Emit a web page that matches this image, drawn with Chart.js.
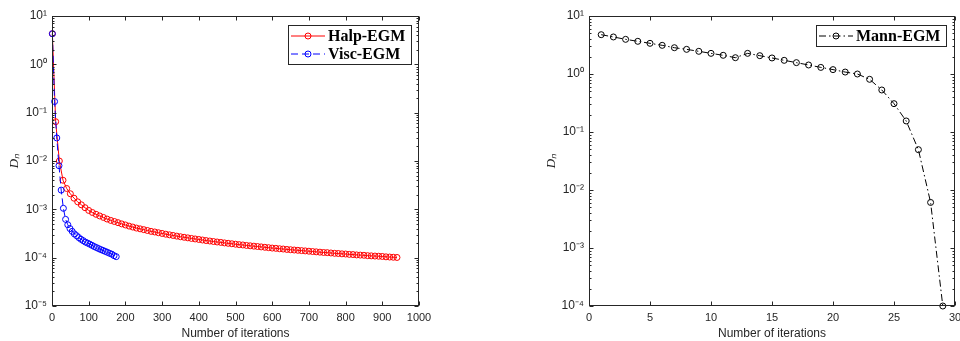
<!DOCTYPE html>
<html>
<head>
<meta charset="utf-8">
<script src="https://cdn.jsdelivr.net/npm/chart.js@4.4.0/dist/chart.umd.min.js"></script>
<style>
  html, body { margin: 0; padding: 0; background: #fff; overflow: hidden; width: 960px; height: 341px; }
  #c1 { position: absolute; left: 0; top: 0; }
  #c2 { position: absolute; left: 537px; top: 0; }
</style>
</head>
<body>
<canvas id="c1" width="440" height="341"></canvas>
<canvas id="c2" width="430" height="341"></canvas>
<script>
// ---- data ----
const halpIter = [1, 10, 20, 30, 40, 50, 60, 70, 80, 90,
  100, 110, 120, 130, 140, 150, 160, 170, 180, 190,
  200, 210, 220, 230, 240, 250, 260, 270, 280, 290,
  300, 310, 320, 330, 340, 350, 360, 370, 380, 390,
  400, 410, 420, 430, 440, 450, 460, 470, 480, 490,
  500, 510, 520, 530, 540, 550, 560, 570, 580, 590,
  600, 610, 620, 630, 640, 650, 660, 670, 680, 690,
  700, 710, 720, 730, 740, 750, 760, 770, 780, 790,
  800, 810, 820, 830, 840, 850, 860, 870, 880, 890,
  900, 910, 920, 930, 940];
const halpVal = [4.3, 0.065, 0.0100, 0.0040, 0.0027, 0.0021, 0.0017, 0.00143, 0.00124, 0.00108,
  9.5e-4, 8.6e-4, 7.9e-4, 7.3e-4, 6.8e-4, 6.3e-4, 5.9e-4, 5.6e-4, 5.3e-4, 5.0e-4,
  4.75e-4, 4.5e-4, 4.3e-4, 4.1e-4, 3.95e-4, 3.8e-4, 3.65e-4, 3.5e-4, 3.4e-4, 3.28e-4,
  3.17e-4, 3.06e-4, 2.97e-4, 2.88e-4, 2.79e-4, 2.71e-4, 2.64e-4, 2.57e-4, 2.5e-4, 2.44e-4,
  2.38e-4, 2.32e-4, 2.26e-4, 2.21e-4, 2.16e-4, 2.11e-4, 2.07e-4, 2.02e-4, 1.98e-4, 1.94e-4,
  1.9e-4, 1.86e-4, 1.83e-4, 1.79e-4, 1.76e-4, 1.73e-4, 1.7e-4, 1.67e-4, 1.64e-4, 1.61e-4,
  1.58e-4, 1.56e-4, 1.53e-4, 1.51e-4, 1.48e-4, 1.46e-4, 1.44e-4, 1.42e-4, 1.4e-4, 1.38e-4,
  1.36e-4, 1.34e-4, 1.32e-4, 1.3e-4, 1.28e-4, 1.27e-4, 1.25e-4, 1.23e-4, 1.22e-4, 1.2e-4,
  1.19e-4, 1.17e-4, 1.16e-4, 1.14e-4, 1.13e-4, 1.12e-4, 1.1e-4, 1.09e-4, 1.08e-4, 1.07e-4,
  1.06e-4, 1.04e-4, 1.03e-4, 1.02e-4, 1.01e-4];

const viscIter = [1, 7, 13, 19, 25, 31, 37, 43, 49, 55,
  61, 67, 73, 79, 85, 91, 97, 103, 109, 115,
  121, 127, 133, 139, 145, 151, 157, 163, 169, 175];
const viscVal = [4.3, 0.17, 0.030, 0.008, 0.0025, 0.00105, 6.2e-4, 4.8e-4, 4.0e-4, 3.5e-4,
  3.1e-4, 2.85e-4, 2.6e-4, 2.4e-4, 2.25e-4, 2.1e-4, 2.0e-4, 1.9e-4, 1.8e-4, 1.7e-4,
  1.62e-4, 1.54e-4, 1.47e-4, 1.41e-4, 1.35e-4, 1.29e-4, 1.23e-4, 1.18e-4, 1.1e-4, 1.05e-4];

const mannIter = [1, 2, 3, 4, 5, 6, 7, 8, 9, 10, 11, 12, 13, 14, 15,
  16, 17, 18, 19, 20, 21, 22, 23, 24, 25, 26, 27, 28, 29];
const mannVal = [4.76, 4.35, 3.96, 3.66, 3.38, 3.12, 2.84, 2.66, 2.46, 2.27, 2.1, 1.91, 2.27, 2.07, 1.89,
  1.72, 1.57, 1.43, 1.3, 1.19, 1.08, 1.0, 0.81, 0.53, 0.308, 0.155, 0.0496, 0.0061, 1e-4];

const leftDecades = [1e-5, 1e-4, 1e-3, 1e-2, 1e-1, 1, 10];
const rightDecades = [1e-4, 1e-3, 1e-2, 1e-1, 1, 10];

const axisColor = '#262626';
const sup = { '-': '⁻', '0': '⁰', '1': '¹', '2': '²', '3': '³', '4': '⁴', '5': '⁵' };

const decadeLabel = (v) => {
  const e = Math.round(Math.log10(v));
  return '10' + String(e).split('').map(c => sup[c]).join('');
};

const pts = (xs, ys) => xs.map((x, i) => ({ x: x, y: ys[i] }));

// box + inward ticks like the matlab axes
const frame = {
  id: 'frame',
  afterDraw(chart) {
    const { ctx, chartArea: a, scales: { x, y } } = chart;
    const L = Math.round(a.left) + 0.5, R = Math.round(a.right) - 0.5;
    const T = Math.round(a.top) + 0.5, B = Math.round(a.bottom) - 0.5;
    ctx.save();
    ctx.strokeStyle = axisColor;
    ctx.lineWidth = 1;
    ctx.beginPath();
    x.ticks.forEach(t => {
      const px = Math.round(x.getPixelForValue(t.value)) + 0.5;
      ctx.moveTo(px, B); ctx.lineTo(px, B - 4);
      ctx.moveTo(px, T); ctx.lineTo(px, T + 4);
    });
    const lo = Math.round(Math.log10(y.min)), hi = Math.round(Math.log10(y.max));
    for (let e = lo; e <= hi; e++) {
      for (let m = 1; m <= 9; m++) {
        const v = m * Math.pow(10, e);
        if (v > y.max * 1.0001) break;
        const py = Math.round(y.getPixelForValue(v)) + 0.5;
        const len = m === 1 ? 4 : 2;
        ctx.moveTo(L, py); ctx.lineTo(L + len, py);
        ctx.moveTo(R, py); ctx.lineTo(R - len, py);
      }
    }
    ctx.stroke();
    ctx.strokeRect(L, T, R - L, B - T);
    ctx.restore();
  }
};

// matlab-style legend with border, line sample and marker
const boxLegend = {
  id: 'boxLegend',
  afterDraw(chart, args, opts) {
    const { ctx, chartArea: a } = chart;
    const sets = chart.data.datasets;
    ctx.save();
    ctx.font = 'bold 16px "Liberation Serif"';
    const rowH = 18;
    const textW = Math.max(...sets.map(d => ctx.measureText(d.label).width));
    const w = Math.round(40 + textW + 6), h = sets.length * rowH + 3;
    const x0 = Math.round(a.right - opts.right - w), y0 = Math.round(a.top + opts.top);
    ctx.fillStyle = '#fff';
    ctx.fillRect(x0, y0, w, h);
    ctx.strokeStyle = axisColor;
    ctx.lineWidth = 1;
    ctx.strokeRect(x0 + 0.5, y0 + 0.5, w, h);
    sets.forEach((d, i) => {
      const cy = y0 + 2 + rowH * i + rowH / 2;
      ctx.strokeStyle = d.borderColor;
      ctx.setLineDash(d.borderDash || []);
      ctx.beginPath(); ctx.moveTo(x0 + 3, cy); ctx.lineTo(x0 + 37, cy); ctx.stroke();
      ctx.setLineDash([]);
      ctx.beginPath(); ctx.arc(x0 + 20, cy, d.pointRadius, 0, 2 * Math.PI); ctx.stroke();
      ctx.fillStyle = '#000';
      ctx.textBaseline = 'middle';
      ctx.fillText(d.label, x0 + 40, cy + 1);
    });
    ctx.restore();
  }
};

const makeChart = (id, datasets, xMax, xStep, decades, padLeft, padRight, legendPos) => {
  return new Chart(document.getElementById(id), {
    type: 'line',
    data: { datasets: datasets },
    options: {
      responsive: false,
      animation: false,
      layout: { padding: { left: padLeft, right: padRight, top: 16, bottom: 0 } },
      scales: {
        x: {
          type: 'linear',
          min: 0,
          max: xMax,
          grid: { display: false, drawTicks: false },
          border: { display: false },
          ticks: { stepSize: xStep, padding: 5, color: axisColor, maxRotation: 0,
                   callback: (v) => String(v),
                   font: { family: '"Liberation Sans", Arial', size: 11 } },
          title: { display: true, text: 'Number of iterations', color: axisColor,
                   padding: { top: 0, bottom: 0 },
                   font: { family: '"Liberation Sans", Arial', size: 12 } },
          afterFit: (s) => { s.height = 35; }
        },
        y: {
          type: 'logarithmic',
          min: decades[0],
          max: decades[decades.length - 1],
          grid: { display: false, drawTicks: false },
          border: { display: false },
          afterBuildTicks: (s) => { s.ticks = decades.map(v => ({ value: v })); },
          ticks: { padding: 5, color: axisColor, autoSkip: false,
                   callback: (v) => decadeLabel(v),
                   font: { family: '"Liberation Sans", Arial', size: 12 } },
          title: { display: true, text: 'Dₙ', color: axisColor,
                   padding: { top: 7, bottom: 0 },
                   font: { family: '"Liberation Serif", serif', size: 13, style: 'italic' } },
          afterFit: (s) => { s.width = 52; }
        }
      },
      plugins: {
        legend: { display: false },
        tooltip: { enabled: false },
        boxLegend: legendPos
      }
    },
    plugins: [frame, boxLegend]
  });
};

const lineStyle = (color, dash) => ({
  borderColor: color,
  borderWidth: 1,
  borderDash: dash,
  backgroundColor: 'rgba(0,0,0,0)',
  pointRadius: 3,
  pointBorderWidth: 1,
  pointBorderColor: color,
  pointBackgroundColor: 'rgba(0,0,0,0)',
  tension: 0,
  clip: false
});

makeChart('c1', [
  Object.assign({ label: 'Halp-EGM', data: pts(halpIter, halpVal), order: 1 }, lineStyle('#ff0000', [])),
  Object.assign({ label: 'Visc-EGM', data: pts(viscIter, viscVal), order: 0 }, lineStyle('#0000ff', [7, 4]))
], 1000, 100, leftDecades, 0, 21, { right: 8, top: 9 });

makeChart('c2', [
  Object.assign({ label: 'Mann-EGM', data: pts(mannIter, mannVal) }, lineStyle('#000000', [7, 3, 1.5, 3]))
], 30, 5, rightDecades, 0, 12, { right: 9, top: 9 });
</script>
</body>
</html>
